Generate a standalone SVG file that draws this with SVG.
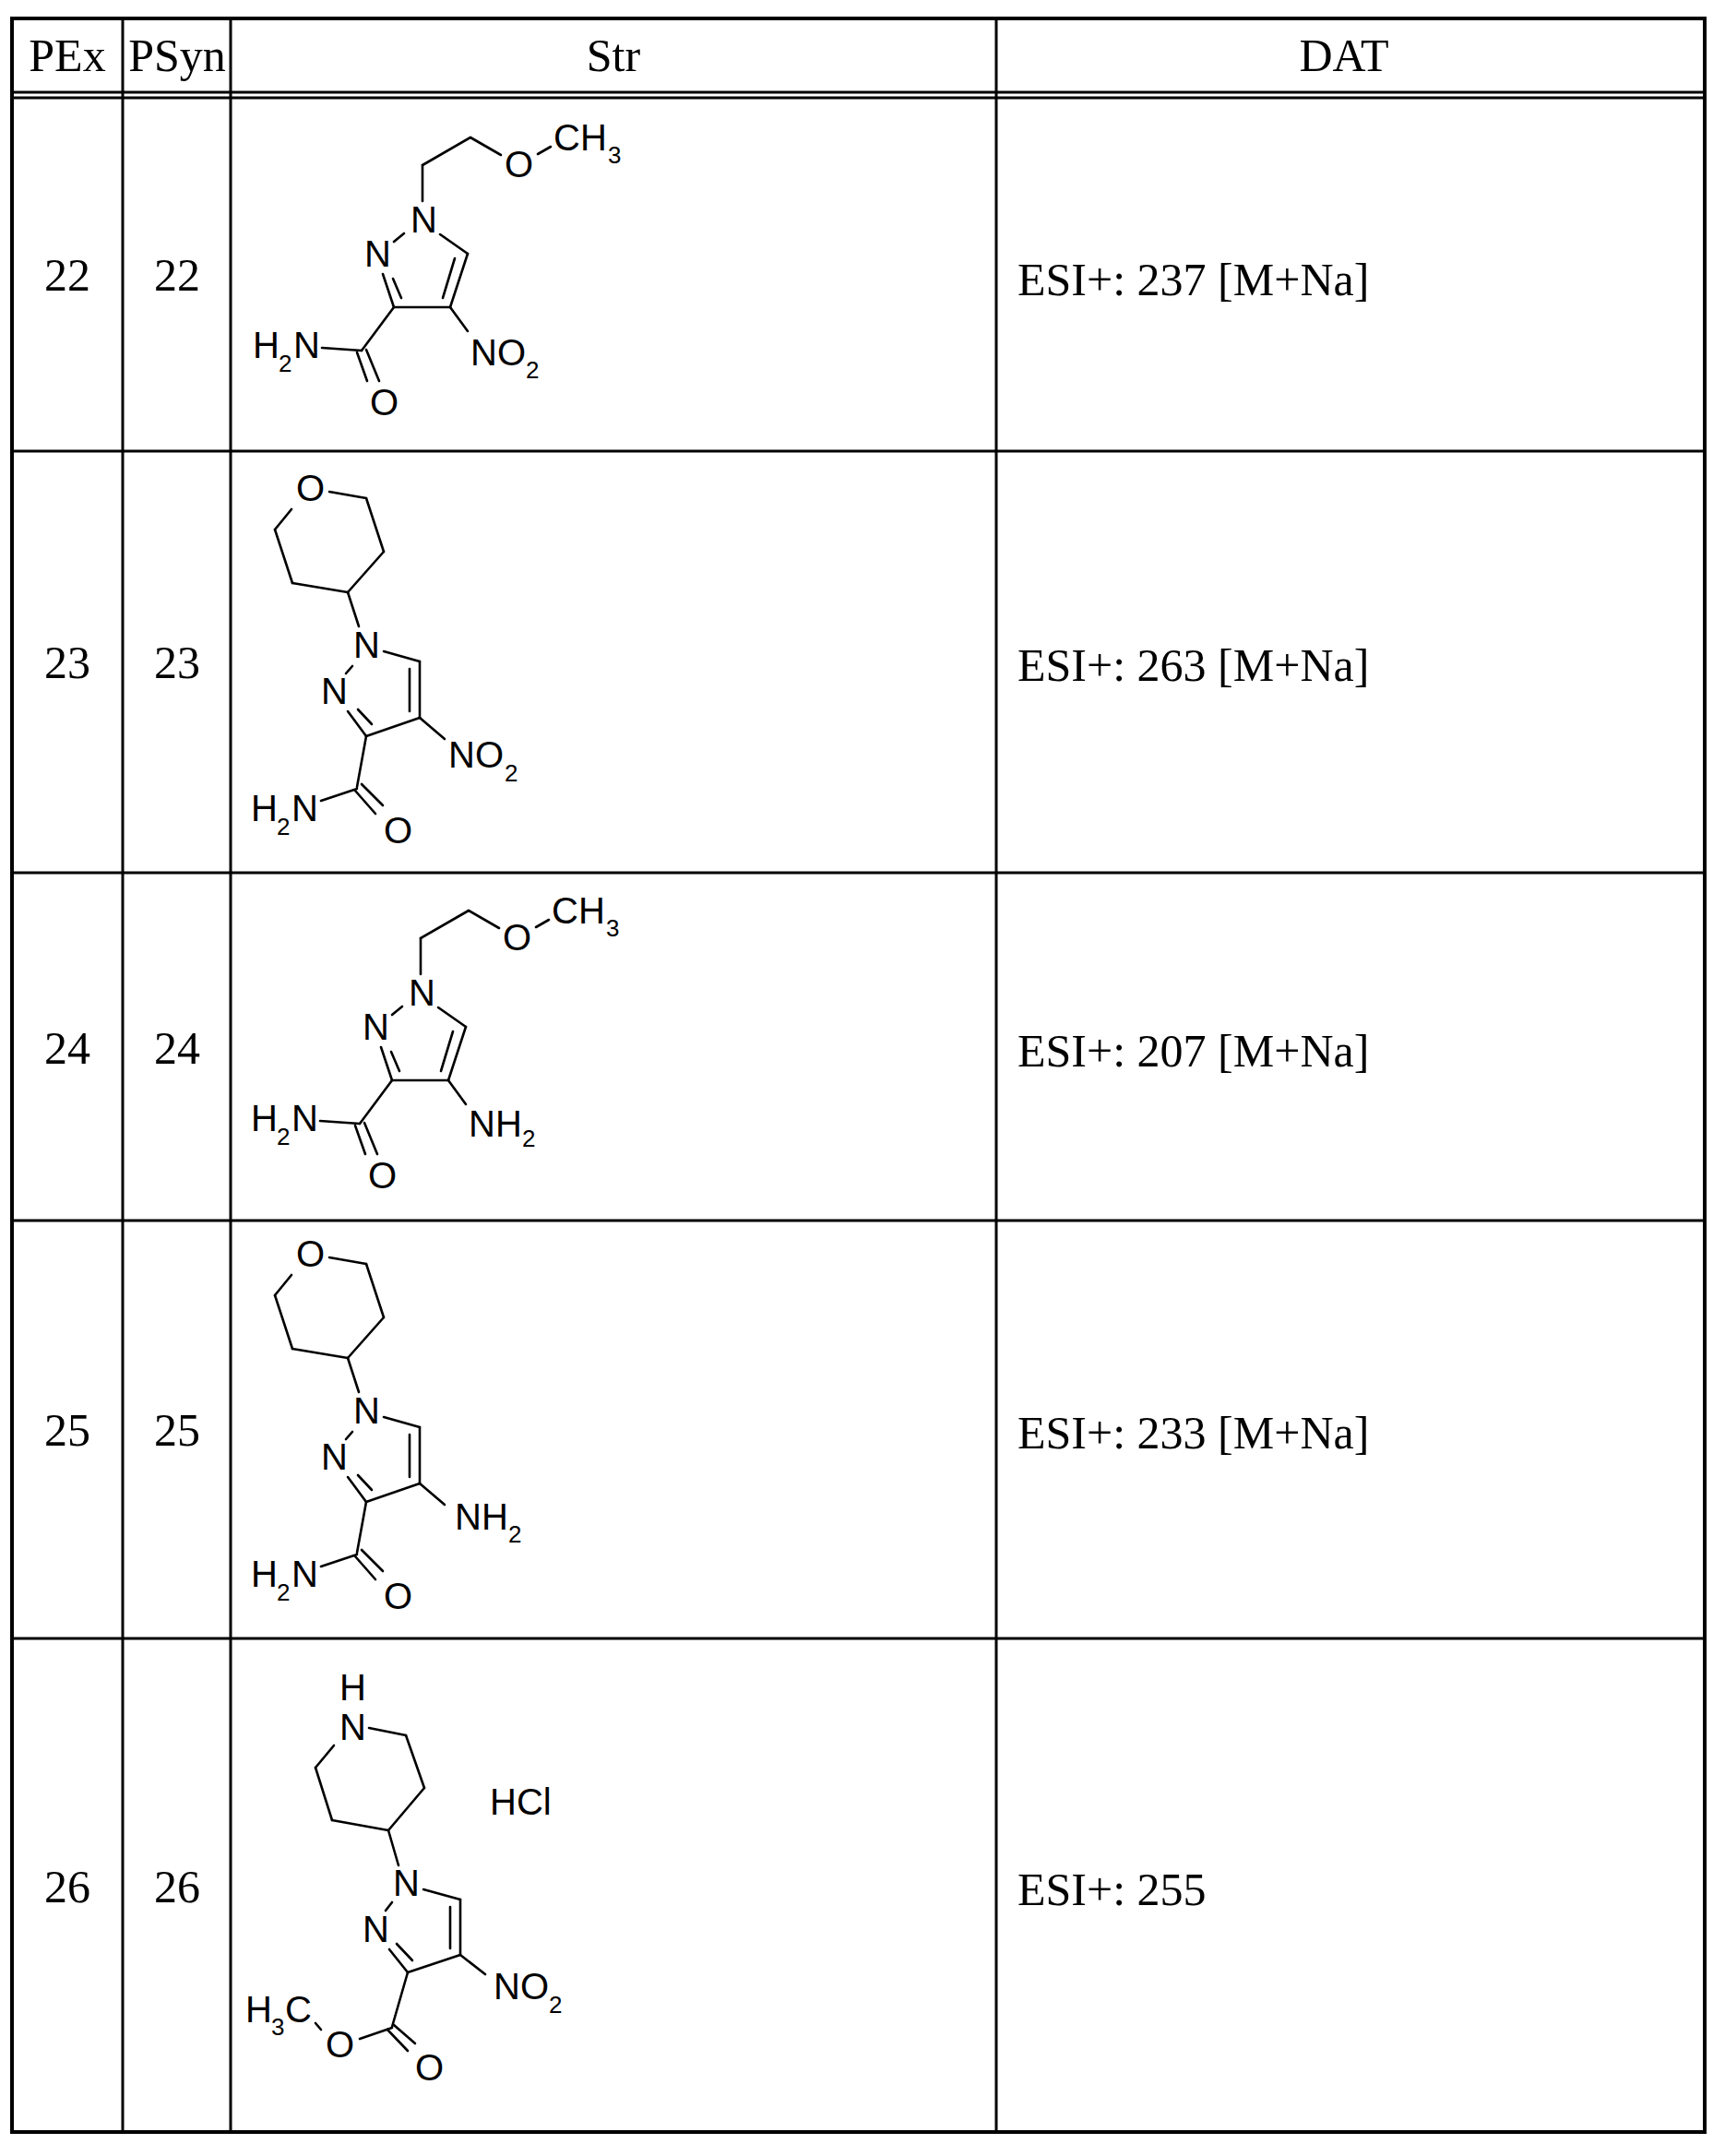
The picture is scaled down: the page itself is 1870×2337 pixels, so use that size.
<svg xmlns="http://www.w3.org/2000/svg" width="1870" height="2337" viewBox="0 0 1870 2337">
<style>
.t{font-family:"Liberation Serif",serif;font-size:50px;fill:#000}
.c{font-family:"Liberation Sans",Arial,sans-serif;font-size:40px;fill:#000}
.s{font-family:"Liberation Sans",Arial,sans-serif;font-size:26px;fill:#000}
.g line{stroke:#000;stroke-width:3;stroke-linecap:round}
.b line{stroke:#000;stroke-width:2.6;stroke-linecap:round}
</style>
<rect width="1870" height="2337" fill="#fff"/>
<g id="grid" class="g">
<rect x="13" y="20" width="1835" height="2291" fill="none" stroke="#000" stroke-width="4"/>
<line x1="133" y1="20" x2="133" y2="2311"/>
<line x1="250" y1="20" x2="250" y2="2311"/>
<line x1="1080" y1="20" x2="1080" y2="2311"/>
<line x1="13" y1="100" x2="1848" y2="100"/>
<line x1="13" y1="106" x2="1848" y2="106"/>
<line x1="13" y1="489" x2="1848" y2="489"/>
<line x1="13" y1="946" x2="1848" y2="946"/>
<line x1="13" y1="1323" x2="1848" y2="1323"/>
<line x1="13" y1="1776" x2="1848" y2="1776"/>
</g>
<g id="header" class="t" text-anchor="middle">
<text x="73" y="77">PEx</text>
<text x="192" y="77">PSyn</text>
<text x="665" y="77">Str</text>
<text x="1457" y="77">DAT</text>
</g>
<g id="labels" class="t" text-anchor="middle">
<text x="73" y="315">22</text><text x="192" y="315">22</text>
<text x="73" y="735">23</text><text x="192" y="735">23</text>
<text x="73" y="1153">24</text><text x="192" y="1153">24</text>
<text x="73" y="1567">25</text><text x="192" y="1567">25</text>
<text x="73" y="2062">26</text><text x="192" y="2062">26</text>
</g>
<g id="dat" class="t">
<text x="1103" y="320">ESI+: 237 [M+Na]</text>
<text x="1103" y="738">ESI+: 263 [M+Na]</text>
<text x="1103" y="1156">ESI+: 207 [M+Na]</text>
<text x="1103" y="1570">ESI+: 233 [M+Na]</text>
<text x="1103" y="2065">ESI+: 255</text>
</g>
<defs>
<g id="coreA">
<g class="b">
<line x1="458" y1="218" x2="458" y2="179"/><line x1="458" y1="179" x2="510" y2="149"/><line x1="510" y1="149" x2="543" y2="168"/><line x1="583" y1="167" x2="597" y2="159"/>
<line x1="477" y1="254" x2="507" y2="275"/><line x1="507" y1="275" x2="488" y2="333"/><line x1="493" y1="280" x2="480" y2="323"/><line x1="488" y1="333" x2="427" y2="333"/><line x1="427" y1="333" x2="415" y2="297"/><line x1="435" y1="323" x2="426" y2="302"/><line x1="427" y1="262" x2="438" y2="253"/><line x1="427" y1="333" x2="392" y2="380"/><line x1="392" y1="380" x2="349" y2="377"/><line x1="387" y1="382" x2="398" y2="413"/><line x1="397" y1="379" x2="411" y2="413"/><line x1="488" y1="333" x2="507" y2="359"/>
</g>
<text class="c" x="547" y="192">O</text><text class="c" x="600" y="163">CH</text><text class="s" x="659" y="177">3</text>
<text class="c" x="445" y="252">N</text><text class="c" x="395" y="289">N</text><text class="c" x="401" y="450">O</text>
<text class="c" x="274" y="388">H</text><text class="s" x="302" y="403">2</text><text class="c" x="318" y="388">N</text>
</g>
<g id="coreB">
<g class="b">
<line x1="357" y1="533" x2="397" y2="540"/><line x1="397" y1="540" x2="416" y2="598"/><line x1="416" y1="598" x2="377" y2="642"/><line x1="377" y1="642" x2="317" y2="632"/><line x1="317" y1="632" x2="298" y2="574"/><line x1="298" y1="574" x2="316" y2="552"/><line x1="377" y1="642" x2="389" y2="679"/>
<line x1="416" y1="706" x2="455" y2="717"/><line x1="455" y1="717" x2="455" y2="778"/><line x1="444" y1="725" x2="444" y2="771"/><line x1="455" y1="778" x2="397" y2="798"/><line x1="397" y1="798" x2="377" y2="771"/><line x1="403" y1="785" x2="388" y2="769"/><line x1="375" y1="730" x2="382" y2="722"/><line x1="397" y1="798" x2="387" y2="853"/><line x1="387" y1="855" x2="348" y2="868"/><line x1="385" y1="857" x2="407" y2="882"/><line x1="392" y1="850" x2="415" y2="873"/><line x1="455" y1="778" x2="482" y2="801"/>
</g>
<text class="c" x="321" y="543">O</text><text class="c" x="383" y="713">N</text><text class="c" x="348" y="763">N</text>
<text class="c" x="272" y="890">H</text><text class="s" x="300" y="905">2</text><text class="c" x="316" y="890">N</text><text class="c" x="416" y="914">O</text>
</g>
</defs>
<g id="s22"><use href="#coreA"/><text class="c" x="510" y="396">NO</text><text class="s" x="570" y="410">2</text></g>
<g id="s23"><use href="#coreB"/><text class="c" x="486" y="832">NO</text><text class="s" x="547" y="847">2</text></g>
<g id="s24" transform="translate(-2,838)"><use href="#coreA"/><text class="c" x="510" y="394">NH</text><text class="s" x="568" y="405">2</text></g>
<g id="s25" transform="translate(0,830)"><use href="#coreB"/><text class="c" x="493" y="828">NH</text><text class="s" x="551" y="842">2</text></g>
<g id="s26">
<g class="b">
<line x1="400" y1="1873" x2="440" y2="1881"/><line x1="440" y1="1881" x2="460" y2="1938"/><line x1="460" y1="1938" x2="421" y2="1984"/><line x1="421" y1="1984" x2="360" y2="1973"/><line x1="360" y1="1973" x2="342" y2="1916"/><line x1="342" y1="1916" x2="362" y2="1892"/><line x1="421" y1="1984" x2="432" y2="2022"/>
<line x1="459" y1="2048" x2="499" y2="2059"/><line x1="499" y1="2059" x2="499" y2="2119"/><line x1="488" y1="2067" x2="488" y2="2112"/><line x1="499" y1="2119" x2="442" y2="2138"/><line x1="442" y1="2138" x2="422" y2="2113"/><line x1="430" y1="2107" x2="447" y2="2125"/><line x1="418" y1="2071" x2="425" y2="2062"/><line x1="499" y1="2119" x2="526" y2="2140"/>
<line x1="442" y1="2138" x2="425" y2="2197"/><line x1="425" y1="2198" x2="390" y2="2210"/><line x1="420" y1="2200" x2="442" y2="2223"/><line x1="427" y1="2195" x2="450" y2="2215"/><line x1="342" y1="2193" x2="348" y2="2200"/>
</g>
<text class="c" x="368" y="1843">H</text><text class="c" x="368" y="1886">N</text>
<text class="c" x="531" y="1967">HCl</text>
<text class="c" x="426" y="2055">N</text><text class="c" x="393" y="2105">N</text>
<text class="c" x="535" y="2167">NO</text><text class="s" x="595" y="2182">2</text>
<text class="c" x="353" y="2230">O</text><text class="c" x="450" y="2255">O</text>
<text class="c" x="266" y="2192">H</text><text class="s" x="294" y="2206">3</text><text class="c" x="309" y="2192">C</text>
</g>
</svg>
